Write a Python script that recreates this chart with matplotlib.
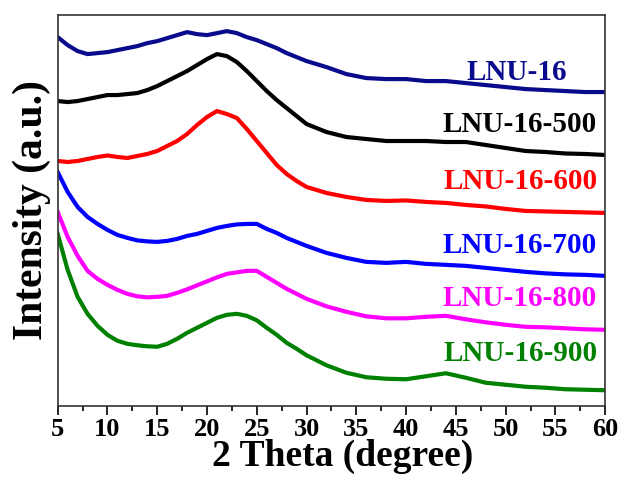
import matplotlib
matplotlib.use('Agg')
import matplotlib.pyplot as plt
from matplotlib.ticker import MultipleLocator

# 2 theta grid (degree) shared by all patterns
two_theta = [5, 6, 7, 8, 9, 10, 11, 12, 13, 14, 15, 16, 17, 18, 19, 20,
             21, 22, 23, 24, 25, 26, 27, 28, 29, 30, 32, 34, 36, 38, 40,
             42, 44, 46, 48, 50, 52, 54, 56, 58, 60]

# intensities (a.u.), already stacked with offsets
lnu16 = [369, 361, 355, 352, 353, 354, 356, 358, 360, 363, 365, 368, 371, 374,
         372, 371, 373, 375, 373, 369, 366, 362, 358, 353, 349, 345, 339, 332,
         328, 327, 327, 325, 325, 323, 321, 319, 317, 316, 315, 314, 314]
lnu16_500 = [305, 304, 305, 307, 309, 311, 311, 312, 313, 316, 320, 325, 330,
             335, 341, 347, 352, 350, 344, 335, 325, 315, 306, 298, 290, 282,
             274, 269, 267, 265, 265, 265, 264, 264, 261, 258, 255, 254, 252.5,
             252, 251]
lnu16_600 = [245, 244, 245, 247, 249, 250.5, 249, 248, 250, 252, 255, 260, 265,
             272, 281, 289, 295, 292, 288, 277, 265, 253, 241, 232, 225, 219,
             213, 209, 206, 205, 205.5, 204, 203, 201, 199.5, 197, 195, 194.5,
             194, 193.5, 193]
lnu16_700 = [234, 214, 199, 189, 182, 176, 171, 168, 165.5, 164.5, 164, 165,
             167, 170, 172, 175, 178, 180, 181.5, 182, 182, 177, 173, 168, 164,
             160, 153, 148, 144, 143, 144, 142, 141, 140, 138, 136, 134, 132.5,
             131.5, 131, 130]
lnu16_800 = [194, 169, 150, 135, 127, 121, 116, 112, 109.5, 108.5, 109, 110,
             113, 116.5, 120.5, 124.5, 128.5, 132, 133.5, 135, 135, 129, 123,
             117, 112, 107, 99.5, 94, 89.5, 87.5, 87.5, 89, 90, 86.5, 83.5, 81,
             79, 78.5, 77.5, 76.5, 76]
lnu16_900 = [172, 136, 109, 92, 80, 71, 65, 62, 60.5, 59.5, 59, 62, 67, 73, 78,
             83, 88, 91, 92, 90, 85.5, 78, 71, 63, 57, 50.5, 40.5, 33, 28.5, 27,
             26.5, 29.5, 32.5, 28, 23, 21, 19, 18, 16.5, 16, 15.5]

series = [lnu16, lnu16_500, lnu16_600, lnu16_700, lnu16_800, lnu16_900]
names = ['LNU-16', 'LNU-16-500', 'LNU-16-600', 'LNU-16-700', 'LNU-16-800', 'LNU-16-900']
colors = ['#0a0a8c', 'black', 'red', 'blue', 'magenta', 'green']

# label anchor (right edge x, centre y)
label_pos = [(56.2, 334), (59.2, 282), (59.2, 224), (59.2, 160), (59.2, 107), (59.2, 52)]

plt.rcParams['font.family'] = 'Liberation Serif'
plt.rcParams['font.weight'] = 'bold'

fig = plt.figure(figsize=(6.25, 4.88), dpi=100)
ax = fig.add_axes([0.0923, 0.1686, 0.876, 0.8014])

for y, c in zip(series, colors):
    ax.plot(two_theta, y, color=c, lw=3)

for name, c, (lx, ly) in zip(names, colors, label_pos):
    ax.text(lx, ly, name, color=c, fontsize=21, fontweight='bold',
            ha='right', va='center')

ax.set_xlim(5, 60)
ax.set_ylim(0, 391.5)
ax.xaxis.set_major_locator(MultipleLocator(5))
ax.xaxis.set_minor_locator(MultipleLocator(2.5))
ax.tick_params(axis='x', which='major', direction='out', length=6.5, width=1.2,
               labelsize=19, pad=2)
ax.tick_params(axis='x', which='minor', direction='out', length=3.5, width=1.2)
ax.set_yticks([])
for s in ax.spines.values():
    s.set_linewidth(1.2)
    s.set_color('#333333')

ax.set_xlabel('2 Theta (degree)', fontsize=27, fontweight='bold', labelpad=-2)
ax.xaxis.set_label_coords(0.52, -0.085)
ax.set_ylabel('Intensity (a.u.)', fontsize=30, fontweight='bold', labelpad=5)

plt.savefig('out.png', dpi=100)
